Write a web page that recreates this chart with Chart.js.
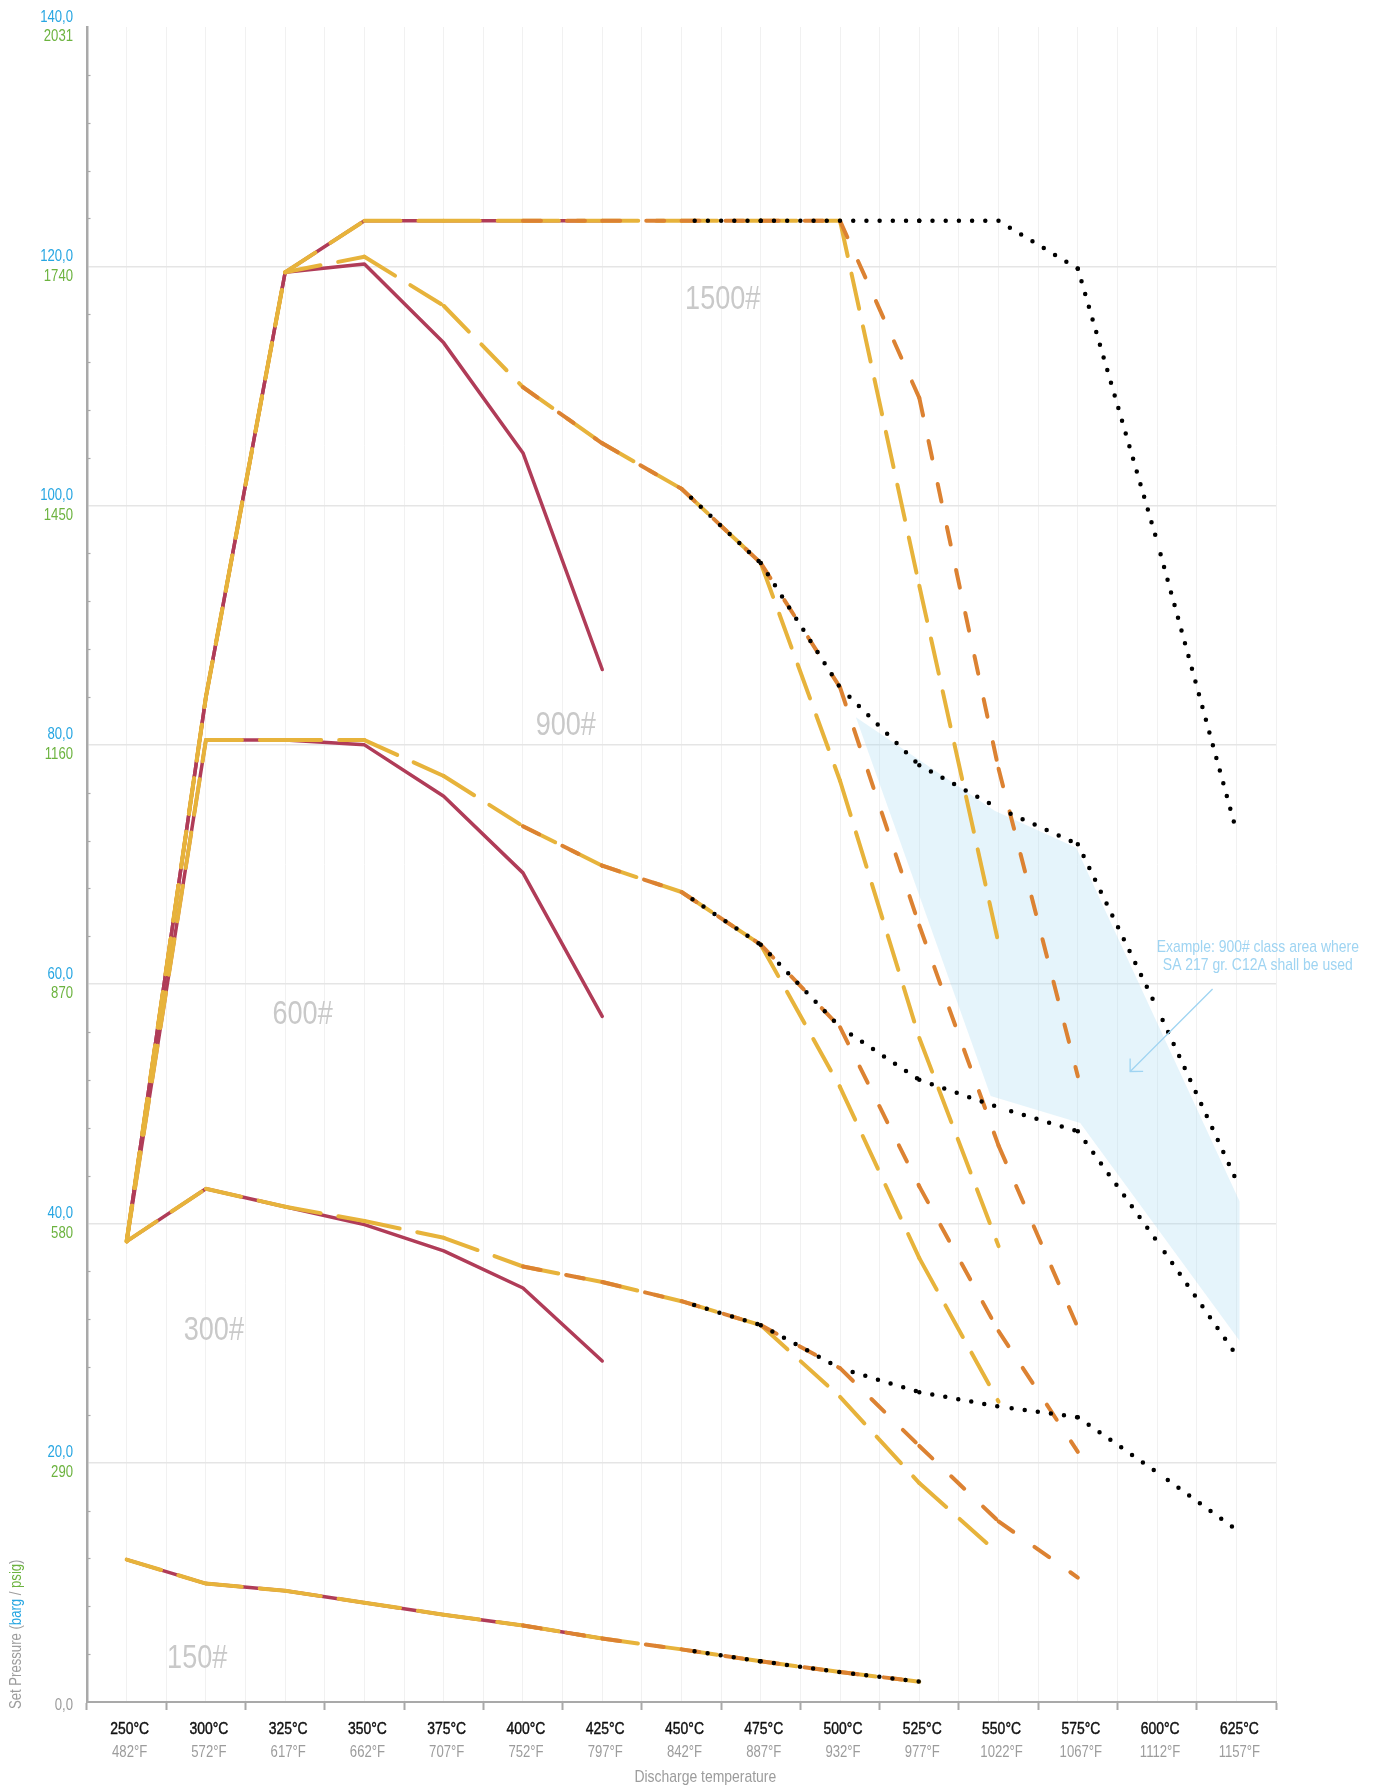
<!DOCTYPE html>
<html>
<head>
<meta charset="utf-8">
<title>Set pressure vs discharge temperature</title>
<script src="https://cdn.jsdelivr.net/npm/chart.js@4.4.1/dist/chart.umd.min.js"></script>
<style>
  html, body { margin: 0; padding: 0; background: #ffffff; }
  #wrap { width: 1379px; height: 1789px; }
  canvas { display: block; }
</style>
</head>
<body>
<div id="wrap"><canvas id="chart" width="1379" height="1789"></canvas></div>
<script>
// ---- categories and tick labels ----
const tempC = ['250°C','300°C','325°C','350°C','375°C','400°C','425°C','450°C','475°C','500°C','525°C','550°C','575°C','600°C','625°C'];
const tempF = ['482°F','572°F','617°F','662°F','707°F','752°F','797°F','842°F','887°F','932°F','977°F','1022°F','1067°F','1112°F','1157°F'];
const bargTicks  = [0, 20, 40, 60, 80, 100, 120, 140];
const bargLabels = ['0,0', '20,0', '40,0', '60,0', '80,0', '100,0', '120,0', '140,0'];
const psigLabels = ['', '290', '580', '870', '1160', '1450', '1740', '2031'];

const _ = null;

// ---- set pressure limits (barg), one array per class ----
// solid line
const wcb150  = [11.9, 9.9, 9.3, 8.3, 7.3, 6.4, 5.3];
const wcb300  = [38.5, 42.9, 41.4, 39.9, 37.7, 34.6, 28.5];
const wcb600  = [38.5, 80.4, 80.4, 80.0, 75.7, 69.3, 57.3];
const wcb900  = [38.5, 84.0, 119.5, 120.2, 113.6, 104.4, 86.3];
const wcb1500 = [38.5, 84.0, 119.5, 123.8, 123.8, 123.8, 123.8];
// long dashes
const wc6_150  = [11.9, 9.9, 9.3, 8.3, 7.3, 6.4, 5.3, 4.4, 3.4, 2.5, 1.7];
const wc6_300  = [38.5, 42.9, 41.4, 40.2, 38.8, 36.4, 35.1, 33.5, 31.5, 25.5, 18.3, 12.4];
const wc6_600  = [38.5, 80.4, 80.4, 80.4, 77.4, 73.2, 69.9, 67.7, 63.3, 51.4, 37.1, 25.1];
const wc6_900  = [38.5, 84.0, 119.5, 120.8, 116.7, 109.9, 105.2, 101.4, 95.2, 77.0, 55.5, 38.1];
const wc6_1500 = [38.5, 84.0, 119.5, 123.8, 123.8, 123.8, 123.8, 123.8, 123.8, 123.8, 93.3, 63.4];
// short dashes
const wc9_150  = [_, _, _, _, _, 6.4, 5.3, 4.4, 3.4, 2.5, 1.7];
const wc9_300  = [_, _, _, _, _, 36.4, 35.1, 33.5, 31.5, 27.9, 21.4, 15.1, 10.4];
const wc9_600  = [_, _, _, _, _, 73.2, 69.9, 67.7, 63.3, 56.4, 43.1, 31.0, 20.9];
const wc9_900  = [_, _, _, _, _, 109.9, 105.2, 101.4, 95.2, 84.8, 64.9, 46.5, 31.3];
const wc9_1500 = [_, _, _, _, _, 123.8, 123.8, 123.8, 123.8, 123.8, 109.0, 78.0, 52.3];
// dotted
const c12a_150  = [_, _, _, _, _, _, _, 4.4, 3.4, 2.5, 1.7];
const c12a_300  = [_, _, _, _, _, _, _, 33.5, 31.5, 27.9, 25.9, 24.7, 23.8, 19.2, 14.4];
const c12a_600  = [_, _, _, _, _, _, _, 67.7, 63.3, 56.4, 52.0, 49.7, 47.7, 38.5, 29.0];
const c12a_900  = [_, _, _, _, _, _, _, 101.4, 95.2, 84.8, 78.3, 74.7, 71.7, 58.0, 43.6];
const c12a_1500 = [_, _, _, _, _, _, _, 123.8, 123.8, 123.8, 123.8, 123.8, 119.8, 97.0, 72.8];

// shaded example area (category index, barg)
const areaIdx  = [9.2, 10.95, 11.98, 14.04, 14.04, 12.03, 10.9];
const areaBarg = [82.3, 74.5, 71.4, 41.85, 30.2, 48.4, 50.65];

// class captions
const classNames = ['1500#', '900#', '600#', '300#', '150#'];
const noteLines = ['Example: 900# class area where', 'SA 217 gr. C12A shall be used'];

// ---- styling ----
const CRIMSON = '#b03c58';
const AMBER   = '#e7b33b';
const ORANGE  = '#dc8232';
const BLUE    = '#27a6e2';
const GREEN   = '#6cb33f';
const GREY    = '#9c9c9c';
const AXIS    = '#a9a9a9';
const NOTE    = '#9fd4f2';

const captionAnchors = { // [category index, barg]
  '1500#': [7.52, 117.2], '900#': [5.54, 81.6], '600#': [2.22, 57.4],
  '300#': [1.10, 31.0], '150#': [0.89, 3.6]
};
const noteAnchor = [14.27, 63.1, 61.6];
const arrowFrom = [13.70, 59.6];
const arrowTo = [12.66, 52.7];

// condensed face if available, otherwise a horizontally squeezed sans
const NARROW = (() => {
  const c = document.createElement('canvas').getContext('2d');
  c.font = '40px monospace';
  const a = c.measureText('Set Pressure 1500#').width;
  c.font = '40px "Liberation Sans Narrow", monospace';
  const b = c.measureText('Set Pressure 1500#').width;
  return Math.abs(a - b) > 0.5;
})();
function setFont(ctx, size, weight) {
  ctx.font = NARROW ? `${weight || 'normal'} ${size}px "Liberation Sans Narrow"`
                    : `${weight || 'normal'} ${size}px "Liberation Sans", Arial, sans-serif`;
}
function text(ctx, str, x, y, size, color, align, heavy) {
  ctx.save();
  ctx.fillStyle = color;
  ctx.textBaseline = 'middle';
  ctx.textAlign = align || 'center';
  ctx.translate(x, y);
  if (!NARROW) ctx.scale(0.82, 1);
  setFont(ctx, size);
  ctx.fillText(str, 0, 0);
  if (heavy) { // slightly heavier strokes for the main tick labels
    ctx.strokeStyle = color;
    ctx.lineWidth = heavy;
    ctx.lineJoin = 'round';
    ctx.strokeText(str, 0, 0);
  }
  ctx.restore();
}

// restart the dash pattern at every data point
const restartDash = { borderDashOffset: c => (c.p0DataIndex % 2) * 0.01 };

const solidStyle = { borderColor: CRIMSON, borderWidth: 3.5, order: 40, borderCapStyle: 'round', borderJoinStyle: 'round' };
const longStyle  = { borderColor: AMBER, borderWidth: 4, borderDash: [36, 18], order: 30, borderCapStyle: 'round', borderJoinStyle: 'round', segment: restartDash };
const shortStyle = { borderColor: ORANGE, borderWidth: 4, borderDash: [18, 26], order: 20, borderCapStyle: 'round', borderJoinStyle: 'round', segment: restartDash };
const dotStyle   = { borderColor: '#000000', borderWidth: 4.5, borderDash: [0, 13.2], order: 10, borderCapStyle: 'round', borderJoinStyle: 'round', segment: restartDash };

function series(label, data, style) {
  return Object.assign({ label, data, xAxisID: 'x', yAxisID: 'y', pointRadius: 0, pointHoverRadius: 0,
                         fill: false, tension: 0, spanGaps: false }, style);
}

const datasets = [
  {
    label: 'C12A area', xAxisID: 'xl', yAxisID: 'y',
    data: areaIdx.map((v, i) => ({ x: v, y: areaBarg[i] })),
    fill: 'shape', backgroundColor: 'rgba(160,215,240,0.28)',
    borderWidth: 0, borderColor: 'rgba(0,0,0,0)', pointRadius: 0, tension: 0, order: 100
  },
  series('WCB 150', wcb150, solidStyle), series('WCB 300', wcb300, solidStyle),
  series('WCB 600', wcb600, solidStyle), series('WCB 900', wcb900, solidStyle),
  series('WCB 1500', wcb1500, solidStyle),
  series('WC6 150', wc6_150, longStyle), series('WC6 300', wc6_300, longStyle),
  series('WC6 600', wc6_600, longStyle), series('WC6 900', wc6_900, longStyle),
  series('WC6 1500', wc6_1500, longStyle),
  series('WC9 150', wc9_150, shortStyle), series('WC9 300', wc9_300, shortStyle),
  series('WC9 600', wc9_600, shortStyle), series('WC9 900', wc9_900, shortStyle),
  series('WC9 1500', wc9_1500, shortStyle),
  series('C12A 150', c12a_150, dotStyle), series('C12A 300', c12a_300, dotStyle),
  series('C12A 600', c12a_600, dotStyle), series('C12A 900', c12a_900, dotStyle),
  series('C12A 1500', c12a_1500, dotStyle)
];

// axis labels, captions and the note arrow
const decor = {
  id: 'decor',
  afterDraw(chart) {
    const { ctx, chartArea: a, scales: { x, xl, y } } = chart;

    // minor marks on the pressure axis
    ctx.save();
    ctx.strokeStyle = AXIS;
    ctx.lineWidth = 1.2;
    for (let v = 4; v < 140; v += 4) {
      if (v % 20 === 0) continue;
      const py = Math.round(y.getPixelForValue(v)) + 0.5;
      ctx.beginPath(); ctx.moveTo(a.left, py); ctx.lineTo(a.left + 3.5, py); ctx.stroke();
    }
    ctx.restore();

    // pressure tick labels: barg above, psig below
    const lx = a.left - 14;
    bargTicks.forEach((v, i) => {
      const py = y.getPixelForValue(v);
      if (v === 0) { text(ctx, bargLabels[i], lx, py + 3.5, 16, GREY, 'right'); return; }
      text(ctx, bargLabels[i], lx, py - 9.8, 16, BLUE, 'right');
      text(ctx, psigLabels[i], lx, py + 9.9, 16, GREEN, 'right');
    });

    // temperature tick labels
    tempC.forEach((lab, i) => {
      const px = x.getPixelForValue(i) + 3;
      text(ctx, lab, px, a.bottom + 27, 17, '#111111', 'center', 0.45);
      text(ctx, tempF[i], px, a.bottom + 50.5, 16, GREY, 'center');
    });
    text(ctx, 'Discharge temperature', xl.getPixelForValue(7.3), a.bottom + 75.5, 17, GREY, 'center');

    // rotated pressure axis title
    const parts = [['Set Pressure ', GREY], ['(', GREY], ['barg', BLUE], [' / ', GREY], ['psig', GREEN], [')', GREY]];
    ctx.save();
    ctx.translate(17, a.bottom + 7);
    ctx.rotate(-Math.PI / 2);
    if (!NARROW) ctx.scale(0.82, 1);
    setFont(ctx, 16);
    ctx.textBaseline = 'middle';
    ctx.textAlign = 'left';
    let off = 0;
    for (const [t, col] of parts) { ctx.fillStyle = col; ctx.fillText(t, off, 0); off += ctx.measureText(t).width; }
    ctx.restore();

    // pressure class captions
    classNames.forEach(n => {
      const [ix, v] = captionAnchors[n];
      text(ctx, n, xl.getPixelForValue(ix), y.getPixelForValue(v), 33, '#c9c9c9', 'center');
    });

    // note and arrow
    const nx = xl.getPixelForValue(noteAnchor[0]);
    text(ctx, noteLines[0], nx, y.getPixelForValue(noteAnchor[1]), 17, NOTE, 'center');
    text(ctx, noteLines[1], nx, y.getPixelForValue(noteAnchor[2]), 17, NOTE, 'center');
    const tx = xl.getPixelForValue(arrowFrom[0]), ty = y.getPixelForValue(arrowFrom[1]);
    const hx = xl.getPixelForValue(arrowTo[0]),   hy = y.getPixelForValue(arrowTo[1]);
    const ang = Math.atan2(ty - hy, tx - hx);
    ctx.save();
    ctx.strokeStyle = NOTE;
    ctx.lineWidth = 1.3;
    ctx.beginPath(); ctx.moveTo(tx, ty); ctx.lineTo(hx, hy); ctx.stroke();
    ctx.beginPath();
    ctx.moveTo(hx + 13 * Math.cos(ang - Math.PI / 4), hy + 13 * Math.sin(ang - Math.PI / 4));
    ctx.lineTo(hx, hy);
    ctx.lineTo(hx + 13 * Math.cos(ang + Math.PI / 4), hy + 13 * Math.sin(ang + Math.PI / 4));
    ctx.stroke();
    ctx.restore();
  }
};

new Chart(document.getElementById('chart').getContext('2d'), {
  type: 'line',
  data: { labels: tempC, datasets },
  options: {
    responsive: false,
    maintainAspectRatio: false,
    animation: false,
    devicePixelRatio: 1,
    events: [],
    layout: { padding: { left: 87, right: 103, top: 27, bottom: 79 } },
    plugins: { legend: { display: false }, tooltip: { enabled: false } },
    scales: {
      x: {
        type: 'category', position: 'bottom', offset: true,
        grid: { display: true, offset: true, drawOnChartArea: false, drawTicks: true, tickLength: 8, tickColor: AXIS, tickWidth: 2 },
        border: { display: true, color: AXIS, width: 2 },
        ticks: { display: false }
      },
      xl: {
        type: 'linear', position: 'bottom', min: -0.5, max: 14.5, offset: false,
        grid: { color: '#f1f1f1', lineWidth: 1, drawTicks: false },
        border: { display: false },
        ticks: { display: false, stepSize: 0.5, maxTicksLimit: 100 }
      },
      y: {
        type: 'linear', position: 'left', min: 0, max: 140,
        grid: { color: c => (c.tick.value > 0 && c.tick.value < 140) ? '#e5e5e5' : 'rgba(0,0,0,0)', lineWidth: 1.5, drawTicks: false },
        border: { display: true, color: AXIS, width: 2.5 },
        ticks: { display: false, stepSize: 20 }
      }
    }
  },
  plugins: [decor]
});
</script>
</body>
</html>
